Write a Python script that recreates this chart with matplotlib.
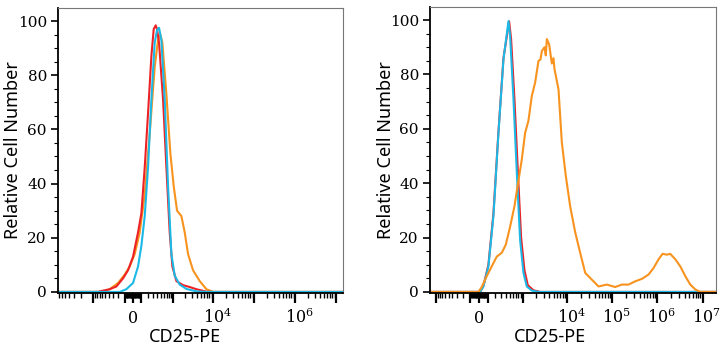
import numpy as np
import matplotlib.pyplot as plt
from matplotlib.transforms import ScaledTranslation

plt.rcParams['mathtext.fontset'] = 'dejavuserif'

# x values are in display units of the biexponential axis (0 = zero, ~1 per decade)
RED = '#ec2227'
CYAN = '#1cb9e6'
ORANGE = '#f7931e'

# left panel
l_red_x = [-1.83, -0.854, -0.813, -0.569, -0.407, -0.244, -0.122, 0.0, 0.122, 0.203, 0.285, 0.366,
           0.447, 0.504, 0.553, 0.585, 0.634, 0.732, 0.813, 0.894, 0.959, 1.057, 1.22, 1.382, 1.545,
           1.789, 1.951, 5.12]
l_red_y = [0, 0, 0.2, 1, 2, 5, 8, 13, 22, 29, 46, 66, 87, 97, 98.4, 97, 92, 71, 46, 22, 9.4, 4, 2.5,
           1.8, 1, 0.1, 0, 0]
l_cyan_x = [-1.83, -0.325, -0.163, 0.0, 0.122, 0.203, 0.285, 0.366, 0.447, 0.528, 0.585, 0.634, 0.691,
            0.772, 0.854, 0.935, 1.016, 1.138, 1.301, 1.545, 1.789, 5.12]
l_cyan_y = [0, 0, 1, 3.3, 9.4, 17, 28, 46, 71, 92, 96.6, 97.5, 93, 71, 39, 14, 6, 2.7, 1.1, 0.2, 0, 0]
l_orange_x = [-1.83, -0.732, -0.569, -0.366, -0.203, -0.081, 0.041, 0.163, 0.285, 0.407, 0.528, 0.61,
              0.667, 0.715, 0.813, 0.911, 0.992, 1.073, 1.179, 1.26, 1.341, 1.463, 1.626, 1.789,
              1.951, 5.12]
l_orange_y = [0, 0, 1, 3.3, 6.4, 9.4, 14, 22, 36, 58.5, 83, 93, 95, 92, 73, 51, 39, 30, 28, 22, 14, 8,
              4, 1, 0, 0]

# right panel
r_red_x = [-1.09, 0.022, 0.096, 0.207, 0.319, 0.43, 0.541, 0.667, 0.711, 0.785, 0.859, 0.933, 1.007,
           1.081, 1.207, 1.356, 5.26]
r_red_y = [0, 0, 2.2, 10, 29, 59, 86, 99.5, 93, 71, 45, 20, 8, 2.5, 0.6, 0, 0]
r_cyan_x = [-1.09, 0.022, 0.096, 0.207, 0.319, 0.43, 0.541, 0.652, 0.689, 0.763, 0.837, 0.911, 0.985,
            1.059, 1.17, 1.319, 5.26]
r_cyan_y = [0, 0, 2, 9.4, 28, 58.5, 85.5, 99.6, 94, 71, 44, 19, 7, 2, 0.5, 0, 0]
r_orange_x = [-1.09, -0.015, 0.059, 0.17, 0.281, 0.393, 0.504, 0.593, 0.689, 0.785, 0.874, 0.948,
              1.022, 1.096, 1.17, 1.244, 1.319, 1.363, 1.393, 1.452, 1.481, 1.504, 1.556, 1.615,
              1.652, 1.674, 1.763, 1.837, 1.926, 2.022, 2.133, 2.244, 2.356, 2.504, 2.652, 2.837,
              3.022, 3.17, 3.319, 3.467, 3.615, 3.763, 3.874, 3.985, 4.074, 4.17, 4.244, 4.356,
              4.467, 4.578, 4.689, 4.8, 4.911, 5.26]
r_orange_y = [0, 0, 1.8, 5.8, 9.4, 13, 14.4, 17.4, 24, 31.5, 41, 48.7, 58.5, 63, 72, 77, 85, 85.5,
              88.6, 90, 87, 93, 91, 84, 86, 82, 74.5, 55, 42.6, 31.5, 22, 14.4, 7, 4.5, 2, 2.7, 1.8,
              2.7, 2.7, 3.9, 4.8, 6.4, 8.8, 12, 14, 13.7, 14, 12, 9.4, 5.8, 2.7, 0.9, 0, 0]

left_xlim = (-1.83, 5.12)
right_xlim = (-1.09, 5.26)
left_labels = {0: '0', 1e4: r'$10^4$', 1e6: r'$10^6$'}
right_labels = {0: '0', 1e4: r'$10^4$', 1e5: r'$10^5$', 1e6: r'$10^6$', 1e7: r'$10^7$'}

C = 219.0


def disp(v):
    return np.arcsinh(np.asarray(v, dtype=float) / C) / np.log(10)


def style_axis(ax, xlim, labels):
    ax.set_xlim(*xlim)
    ax.set_ylim(-0.4, 104.8)
    majors = [0.0] + [s * 10.0 ** k for k in range(2, 8) for s in (1, -1)]
    minors = [s * m * 10.0 ** k for k in range(1, 7) for m in range(2, 10) for s in (1, -1)]
    minors += [s * 10.0 for s in (1, -1)]
    maj = [disp(v) for v in majors if xlim[0] <= disp(v) <= xlim[1]]
    mnr = [disp(v) for v in minors if xlim[0] <= disp(v) <= xlim[1]]
    ax.set_xticks(maj)
    ax.set_xticks(mnr, minor=True)
    ax.set_xticklabels([''] * len(maj))
    for v, txt in labels.items():
        offs = 0 if v == 0 else 4
        t = ax.text(disp(v), -0.105, txt, transform=ax.get_xaxis_transform(), ha='center',
                    va='baseline', fontsize=11.5, family='DejaVu Serif')
        t.set_transform(t.get_transform() + ScaledTranslation(offs / 100, 0, ax.figure.dpi_scale_trans))
    ax.set_yticks([0, 20, 40, 60, 80, 100])
    ax.set_yticks(np.arange(0, 105, 5), minor=True)
    ax.tick_params(axis='x', which='major', length=7, width=1.6, direction='out')
    ax.tick_params(axis='x', which='minor', length=3.5, width=1.0, direction='out')
    ax.tick_params(axis='y', which='major', length=5, width=1.2, direction='out', pad=3)
    ax.tick_params(axis='y', which='minor', length=3, width=0.8, direction='out')
    for lab in ax.get_yticklabels():
        lab.set_family('DejaVu Serif')
        lab.set_fontsize(11)
    for s in ('top', 'right'):
        ax.spines[s].set_color('#777777')
        ax.spines[s].set_linewidth(0.8)
    for s in ('left', 'bottom'):
        ax.spines[s].set_color('black')
        ax.spines[s].set_linewidth(1.3)
    ax.set_ylabel('Relative Cell Number', family='Noto Sans', fontsize=13)
    ax.set_xlabel('CD25-PE', family='Noto Sans', fontsize=13)


fig = plt.figure(figsize=(7.24, 3.5), dpi=100)
ax1 = fig.add_axes([58 / 724, 57 / 350, 285 / 724, 285 / 350])
ax2 = fig.add_axes([430 / 724, 57 / 350, 286 / 724, 286 / 350])

ax1.plot(l_orange_x, l_orange_y, color=ORANGE, lw=1.5)
ax1.plot(l_red_x, l_red_y, color=RED, lw=1.5)
ax1.plot(l_cyan_x, l_cyan_y, color=CYAN, lw=1.5)
style_axis(ax1, left_xlim, left_labels)
ax1.yaxis.set_label_coords(-0.128, 0.5)
ax1.xaxis.set_label_coords(0.445, -0.122)

ax2.plot(r_red_x, r_red_y, color=RED, lw=1.5)
ax2.plot(r_cyan_x, r_cyan_y, color=CYAN, lw=1.5)
ax2.plot(r_orange_x, r_orange_y, color=ORANGE, lw=1.5)
style_axis(ax2, right_xlim, right_labels)
ax2.yaxis.set_label_coords(-0.122, 0.5)
ax2.xaxis.set_label_coords(0.42, -0.122)

fig.savefig('out.png', dpi=100)
